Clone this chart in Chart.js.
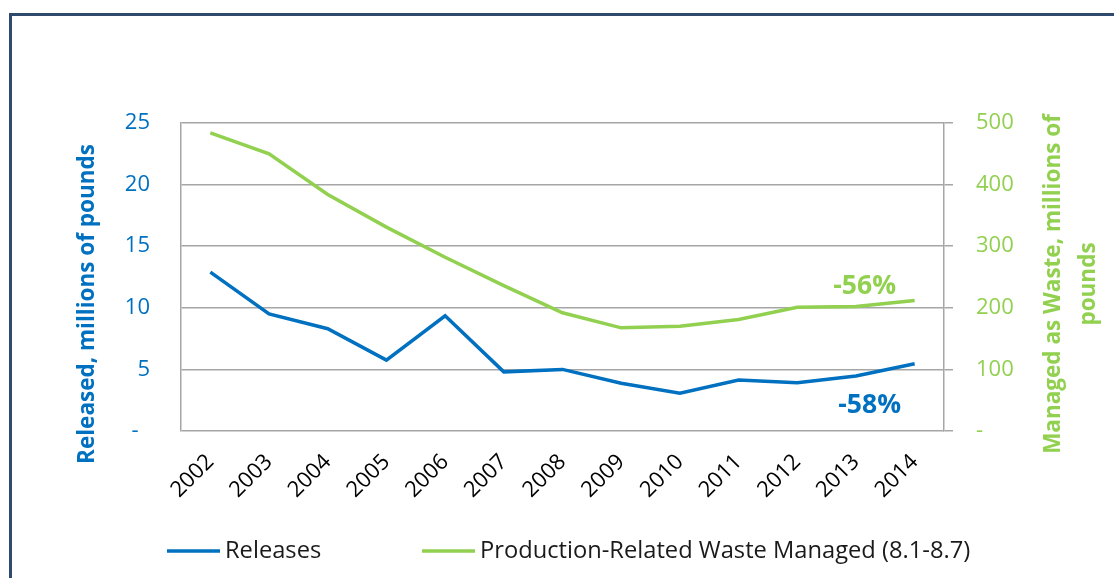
<!DOCTYPE html>
<html>
<head>
<meta charset="utf-8">
<script src="https://cdn.jsdelivr.net/npm/chart.js@4/dist/chart.umd.min.js"></script>
<style>
  html, body { margin: 0; padding: 0; background: #fff; overflow: hidden; }
  #wrap { position: relative; width: 1114px; height: 578px; }
  #chart { position: absolute; left: 0; top: 0; }
  #frame {
    position: absolute; left: 9px; top: 13px; width: 1200px; height: 700px;
    border: 3px solid #2e4a6c; pointer-events: none;
  }
</style>
</head>
<body>
<div id="wrap">
  <canvas id="chart" width="1114" height="578"></canvas>
  <div id="frame"></div>
</div>
<script>
const years = ["2002", "2003", "2004", "2005", "2006", "2007", "2008", "2009", "2010", "2011", "2012", "2013", "2014"];
const releases = [12.9, 9.5, 8.3, 5.75, 9.35, 4.8, 5.0, 3.87, 3.06, 4.14, 3.92, 4.46, 5.46];
const wasteManaged = [484, 450, 384, 331, 282, 236, 192, 167.5, 170, 181, 201, 202, 212];
const seriesNames = ["Releases", "Production-Related Waste Managed (8.1-8.7)"];
const leftTitle = "Released, millions of pounds";
const rightTitle = ["Managed as Waste, millions of", "pounds"];
const changeLabels = ["-58%", "-56%"];

const BLUE = "#0070C0";
const GREEN = "#92D050";
const GRID = "#a6a6a6";
const FONT = "'Open Sans', 'DejaVu Sans', sans-serif";

// axis titles, change labels and the bottom legend
const extrasPlugin = {
  id: "extras",
  afterDraw(chart) {
    const ctx = chart.ctx;
    const x = chart.scales.x;
    const yL = chart.scales.y;
    const yR = chart.scales.y1;
    ctx.save();

    // left axis title
    ctx.font = "bold 22.5px " + FONT;
    ctx.fillStyle = BLUE;
    ctx.textAlign = "center";
    ctx.textBaseline = "middle";
    ctx.save();
    ctx.translate(88, 304);
    ctx.rotate(-Math.PI / 2);
    ctx.fillText(leftTitle, 0, 0);
    ctx.restore();

    // right axis title (two lines, reading bottom to top)
    ctx.fillStyle = GREEN;
    const rx = [1054, 1089];
    rightTitle.forEach((line, i) => {
      ctx.save();
      ctx.translate(rx[i], 284);
      ctx.rotate(-Math.PI / 2);
      ctx.fillText(line, 0, 0);
      ctx.restore();
    });

    // change labels near the last points
    ctx.font = "bold 26.5px " + FONT;
    ctx.fillStyle = BLUE;
    ctx.fillText(changeLabels[0], x.getPixelForValue(12) - 45, yL.getPixelForValue(2.1));
    ctx.fillStyle = GREEN;
    ctx.fillText(changeLabels[1], x.getPixelForValue(12) - 50, yR.getPixelForValue(235));

    // legend
    const legendX = [167, 422];
    const legendY = 551;
    ctx.font = "23.7px " + FONT;
    ctx.textAlign = "left";
    chart.data.datasets.forEach((ds, i) => {
      ctx.strokeStyle = ds.borderColor;
      ctx.lineWidth = 3.5;
      ctx.beginPath();
      ctx.moveTo(legendX[i], legendY);
      ctx.lineTo(legendX[i] + 53, legendY);
      ctx.stroke();
      ctx.fillStyle = "#1a1a1a";
      ctx.fillText(ds.label, legendX[i] + 58, legendY);
    });
    ctx.restore();
  }
};

new Chart(document.getElementById("chart"), {
  type: "line",
  data: {
    labels: years,
    datasets: [
      {
        label: seriesNames[0],
        data: releases,
        borderColor: BLUE,
        backgroundColor: BLUE,
        borderWidth: 3.5,
        pointRadius: 0,
        tension: 0,
        yAxisID: "y",
      },
      {
        label: seriesNames[1],
        data: wasteManaged,
        borderColor: GREEN,
        backgroundColor: GREEN,
        borderWidth: 3.5,
        pointRadius: 0,
        tension: 0,
        yAxisID: "y1",
      },
    ],
  },
  options: {
    responsive: false,
    animation: false,
    devicePixelRatio: 1,
    layout: { padding: { top: 123, left: 0, right: 0, bottom: 0 } },
    plugins: {
      legend: { display: false },
      tooltip: { enabled: false },
    },
    scales: {
      x: {
        offset: true,
        grid: { display: false },
        border: { display: false },
        ticks: {
          color: "#000",
          font: { family: FONT, size: 22 },
          minRotation: 45,
          maxRotation: 45,
          padding: 10,
          autoSkip: false,
        },
        afterFit(scale) { scale.height = 147; },
      },
      y: {
        position: "left",
        min: 0,
        max: 25,
        grid: { color: GRID, lineWidth: 1.5, drawTicks: false },
        border: { display: true, color: GRID, width: 1.5 },
        ticks: {
          stepSize: 5,
          color: BLUE,
          font: { family: FONT, size: 22 },
          padding: 31,
          callback: (v) => (v === 0 ? "-  " : v),
        },
        afterFit(scale) { scale.width = 181; },
      },
      y1: {
        position: "right",
        min: 0,
        max: 500,
        grid: { drawOnChartArea: false, color: GRID, lineWidth: 1.5, tickLength: 9 },
        border: { display: true, color: GRID, width: 1.5 },
        ticks: {
          stepSize: 100,
          color: GREEN,
          font: { family: FONT, size: 22 },
          padding: 23,
          callback: (v) => (v === 0 ? "-" : v),
        },
        afterFit(scale) { scale.width = 170; },
      },
    },
  },
  plugins: [extrasPlugin],
});
</script>
</body>
</html>
